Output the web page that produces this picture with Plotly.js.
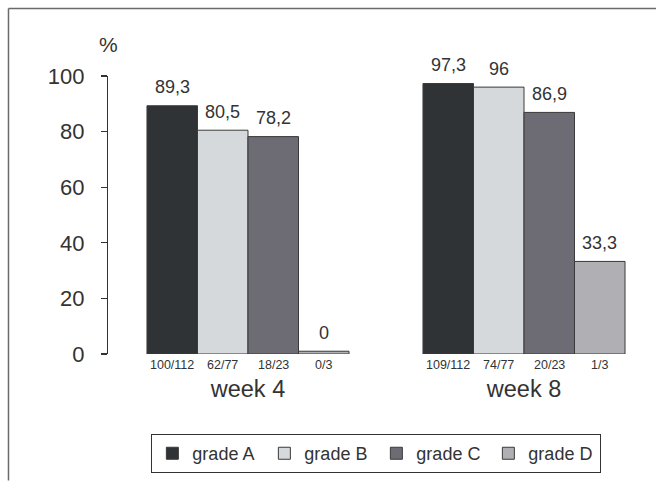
<!DOCTYPE html>
<html>
<head>
<meta charset="utf-8">
<script src="https://cdn.plot.ly/plotly-3.0.1.min.js"></script>
<style>html,body{margin:0;padding:0;background:#fff;}#chart{width:656px;height:481px;}</style>
</head>
<body>
<div id="chart"></div>
<script>
// ---- data ----
const weeks = ["week 4", "week 8"];
const grades = ["grade A", "grade B", "grade C", "grade D"];
const gradeA = [89.3, 97.3];
const gradeB = [80.5, 96];
const gradeC = [78.2, 86.9];
const gradeD = [0, 33.3];
const fractionsA = ["100/112", "109/112"];
const fractionsB = ["62/77", "74/77"];
const fractionsC = ["18/23", "20/23"];
const fractionsD = ["0/3", "1/3"];
const valueLabelsA = ["89,3", "97,3"];
const valueLabelsB = ["80,5", "96"];
const valueLabelsC = ["78,2", "86,9"];
const valueLabelsD = ["0", "33,3"];
const yTicks = [0, 20, 40, 60, 80, 100];

// ---- styles ----
const colors = ["#303336", "#d6d9dc", "#6d6b73", "#b0afb4"];
const FONT = "Liberation Sans, Arial, Helvetica, sans-serif";
const TXT = "#333333";
const BARGAP = 0.268;
const MIN_VISIBLE = 1; // zero-valued bar is shown as a thin sliver, as in the source

const series = [gradeA, gradeB, gradeC, gradeD];
const fracs = [fractionsA, fractionsB, fractionsC, fractionsD];
const vlabels = [valueLabelsA, valueLabelsB, valueLabelsC, valueLabelsD];

const traces = series.map((vals, i) => ({
  type: "bar",
  name: grades[i],
  x: weeks,
  y: vals.map(v => Math.max(v, MIN_VISIBLE)),
  marker: {color: colors[i], line: {color: "#3a3a3a", width: 1}},
  hoverinfo: "skip"
}));

const barW = (1 - BARGAP) / series.length;
const annotations = [];
series.forEach((vals, i) => {
  vals.forEach((v, j) => {
    const xc = j + (i - (series.length - 1) / 2) * barW;
    annotations.push({
      x: xc, y: Math.max(v, MIN_VISIBLE), xref: "x", yref: "y",
      text: vlabels[i][j], showarrow: false, yanchor: "bottom", yshift: 6.5,
      font: {family: FONT, size: 18, color: TXT}
    });
    annotations.push({
      x: xc, y: 0, xref: "x", yref: "y",
      text: fracs[i][j], showarrow: false, yanchor: "top", yshift: -2,
      font: {family: FONT, size: 12.5, color: TXT}
    });
  });
});
annotations.push({
  x: 0, y: 1.113, xref: "paper", yref: "paper", text: "%", showarrow: false,
  xanchor: "center", yanchor: "middle", font: {family: FONT, size: 21, color: TXT}
});

const layout = {
  width: 656, height: 481,
  margin: {l: 108, r: 6, t: 76, b: 127},
  paper_bgcolor: "#ffffff", plot_bgcolor: "#ffffff",
  barmode: "group", bargap: BARGAP, bargroupgap: 0,
  font: {family: FONT, color: TXT},
  showlegend: true,
  legend: {
    orientation: "h", x: 0.08, y: -0.288, xanchor: "left", yanchor: "top",
    bordercolor: "#333333", borderwidth: 1, bgcolor: "#ffffff",
    font: {family: FONT, size: 18, color: TXT},
    entrywidth: 67, entrywidthmode: "pixels", traceorder: "normal"
  },
  xaxis: {
    type: "category", range: [-0.5072, 1.4565],
    showline: false, ticks: "", showgrid: false, zeroline: false,
    tickfont: {family: FONT, size: 23.5, color: TXT},
    ticklabelstandoff: 18, fixedrange: true
  },
  yaxis: {
    range: [0, 100], tickvals: yTicks, ticktext: yTicks.map(String),
    showline: true, linecolor: "#333333", linewidth: 1.2,
    ticks: "outside", ticklen: 6, tickcolor: "#333333", tickwidth: 1.2,
    showgrid: false, zeroline: false,
    tickfont: {family: FONT, size: 22, color: TXT},
    ticklabelstandoff: 12, fixedrange: true
  },
  annotations: annotations,
  shapes: [
    {type: "line", xref: "paper", yref: "paper", x0: -0.1836, x1: 1.02, y0: 1.243, y1: 1.243,
     line: {color: "#6a6a6a", width: 1.5}},
    {type: "line", xref: "paper", yref: "paper", x0: -0.1836, x1: -0.1836, y0: 1.243, y1: -0.455,
     line: {color: "#6a6a6a", width: 1.5}}
  ]
};

Plotly.newPlot("chart", traces, layout, {displayModeBar: false, staticPlot: true});
</script>
</body>
</html>
